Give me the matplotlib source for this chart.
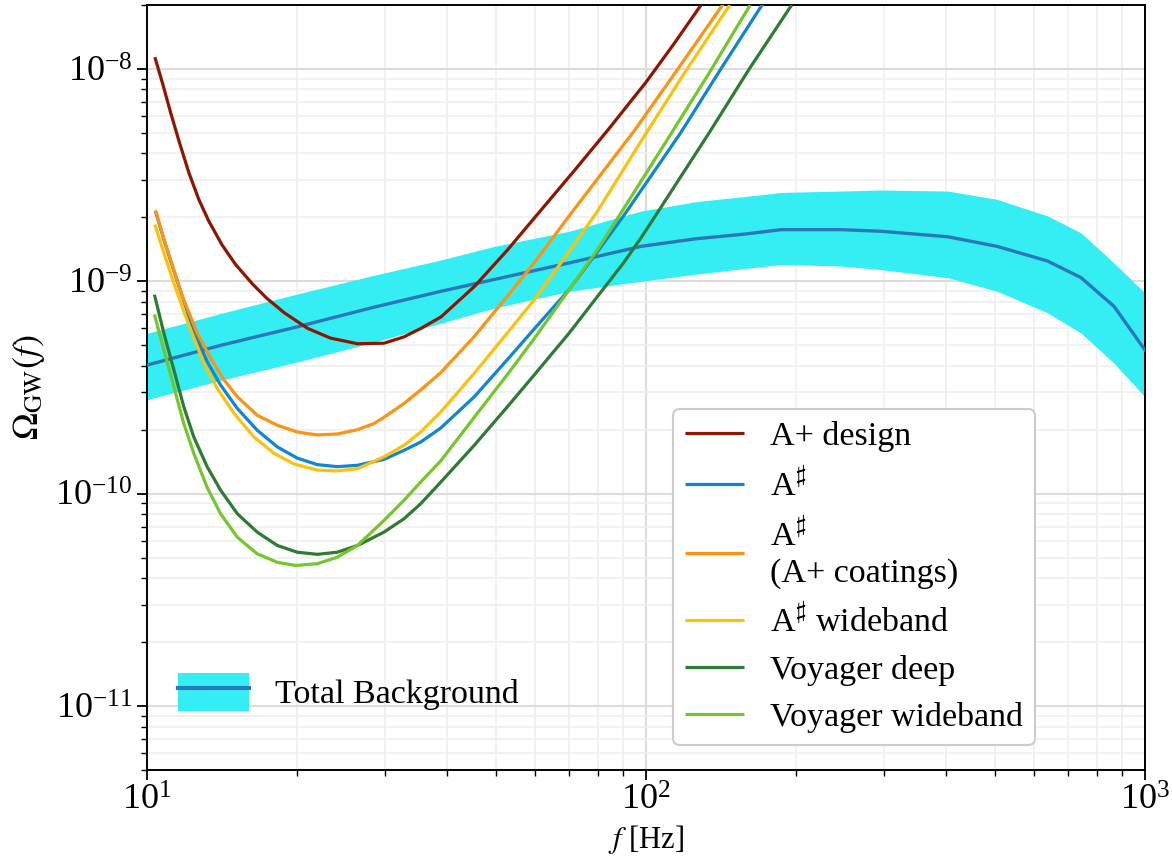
import matplotlib
matplotlib.use('Agg')
import matplotlib.pyplot as plt
from matplotlib.patches import Patch
from matplotlib.lines import Line2D
from matplotlib.ticker import NullFormatter, FixedLocator, LogLocator

plt.rcParams['font.family'] = ['Liberation Serif', 'DejaVu Serif']
plt.rcParams['mathtext.fontset'] = 'stix'

# ---------------- data ----------------
bg_f = [10, 14.13, 20.0, 28.18, 38.82, 49.66, 70.15, 97.72, 125.9, 158.5,
        186.6, 246.0, 295.8, 402.7, 505.8, 638.3, 744.7, 867.0, 1000]
bg_median = [4.03e-10, 5.01e-10, 6.10e-10, 7.50e-10, 8.97e-10, 1.02e-9, 1.22e-9,
             1.46e-9, 1.585e-9, 1.67e-9, 1.75e-9, 1.75e-9, 1.72e-9, 1.62e-9,
             1.46e-9, 1.245e-9, 1.04e-9, 7.62e-10, 4.75e-10]
bg_upper = [5.69e-10, 7.08e-10, 8.71e-10, 1.06e-9, 1.26e-9, 1.46e-9, 1.72e-9,
            2.14e-9, 2.37e-9, 2.51e-9, 2.62e-9, 2.66e-9, 2.69e-9, 2.66e-9,
            2.43e-9, 2.03e-9, 1.69e-9, 1.22e-9, 8.81e-10]
bg_lower = [2.77e-10, 3.43e-10, 4.17e-10, 5.13e-10, 6.35e-10, 7.48e-10, 8.97e-10,
            1.0e-9, 1.08e-9, 1.15e-9, 1.20e-9, 1.18e-9, 1.135e-9, 1.04e-9,
            8.97e-10, 7.10e-10, 5.70e-10, 4.11e-10, 2.86e-10]

aplus_f = [10.37, 10.73, 11.15, 11.59, 12.13, 12.70, 13.30, 14.15, 15.05, 16.26,
           17.38, 18.84, 20.99, 23.33, 26.42, 29.85, 32.73, 35.40, 38.82, 45.29,
           52.72, 60.12, 71.78, 83.75, 100, 114.0, 129.7]
aplus_om = [1.135e-8, 8.65e-9, 6.24e-9, 4.58e-9, 3.25e-9, 2.43e-9, 1.92e-9,
            1.48e-9, 1.20e-9, 9.73e-10, 8.32e-10, 7.11e-10, 6.00e-10, 5.40e-10,
            5.08e-10, 5.11e-10, 5.47e-10, 6.00e-10, 6.79e-10, 9.44e-10, 1.40e-9,
            2.02e-9, 3.31e-9, 5.13e-9, 8.65e-9, 1.32e-8, 2.04e-8]

asharp_f = [10.40, 10.81, 11.24, 11.77, 12.41, 13.20, 14.04, 15.17, 16.63, 18.25,
            20.01, 21.95, 24.07, 26.41, 29.85, 32.75, 35.37, 38.82, 45.29, 52.72,
            59.70, 70.15, 79.98, 90.16, 117.5, 141.3, 171.8]
asharp_om = [2.14e-9, 1.57e-9, 1.18e-9, 8.49e-10, 5.82e-10, 4.19e-10, 3.25e-10,
             2.52e-10, 1.99e-10, 1.66e-10, 1.47e-10, 1.37e-10, 1.34e-10, 1.36e-10,
             1.45e-10, 1.60e-10, 1.75e-10, 2.04e-10, 2.86e-10, 4.27e-10, 5.96e-10,
             9.14e-10, 1.38e-9, 2.03e-9, 5.02e-9, 1.0e-8, 2.04e-8]

acoat_f = [10.40, 10.81, 11.24, 11.77, 12.61, 13.41, 14.26, 15.17, 16.63, 18.25,
           20.01, 21.95, 24.07, 26.41, 28.51, 29.85, 32.75, 35.37, 38.82, 45.29,
           52.72, 59.70, 70.15, 94.84, 115.9, 143.2]
acoat_om = [2.16e-9, 1.585e-9, 1.19e-9, 8.51e-10, 5.70e-10, 4.35e-10, 3.44e-10,
            2.86e-10, 2.34e-10, 2.10e-10, 1.95e-10, 1.89e-10, 1.91e-10, 2.0e-10,
            2.14e-10, 2.29e-10, 2.66e-10, 3.08e-10, 3.72e-10, 5.50e-10, 8.49e-10,
            1.22e-9, 2.03e-9, 5.13e-9, 1.0e-8, 2.04e-8]

awide_f = [10.37, 10.81, 11.32, 11.95, 13.00, 13.83, 14.94, 16.38, 17.96, 19.70,
           21.95, 24.07, 26.41, 29.85, 32.75, 35.37, 38.82, 45.29, 52.72, 59.70,
           70.15, 79.98, 98.40, 119.4, 147.2]
awide_om = [1.85e-9, 1.36e-9, 9.82e-10, 6.84e-10, 4.11e-10, 3.13e-10, 2.39e-10,
            1.85e-10, 1.55e-10, 1.38e-10, 1.29e-10, 1.28e-10, 1.31e-10, 1.49e-10,
            1.69e-10, 1.95e-10, 2.43e-10, 3.69e-10, 5.70e-10, 8.18e-10, 1.38e-9,
            2.14e-9, 4.68e-9, 9.55e-9, 2.0e-8]

vdeep_f = [10.35, 10.81, 11.32, 11.85, 12.41, 13.20, 14.04, 15.17, 16.63, 18.25,
           20.01, 21.95, 24.07, 26.41, 29.85, 32.75, 35.37, 38.82, 45.29, 52.72,
           59.70, 70.15, 79.98, 90.16, 97.72, 105.4, 134.0, 161.1, 195.9]
vdeep_om = [8.65e-10, 5.70e-10, 3.83e-10, 2.57e-10, 1.85e-10, 1.34e-10, 1.04e-10,
            8.05e-11, 6.59e-11, 5.70e-11, 5.30e-11, 5.18e-11, 5.30e-11, 5.70e-11,
            6.59e-11, 7.62e-11, 8.97e-11, 1.135e-10, 1.69e-10, 2.56e-10, 3.62e-10,
            5.70e-10, 8.49e-10, 1.22e-9, 1.60e-9, 2.10e-9, 5.02e-9, 1.0e-8, 2.0e-8]

vwide_f = [10.35, 10.81, 11.32, 11.85, 12.41, 13.20, 14.04, 15.17, 16.63, 18.25,
           19.86, 21.95, 24.07, 26.41, 29.85, 32.75, 35.37, 38.82, 45.29, 52.72,
           59.70, 70.15, 79.98, 90.16, 107.9, 133.0, 161.8]
vwide_om = [6.97e-10, 4.75e-10, 3.19e-10, 2.14e-10, 1.55e-10, 1.07e-10, 8.05e-11,
            6.24e-11, 5.21e-11, 4.75e-11, 4.59e-11, 4.68e-11, 5.02e-11, 5.70e-11,
            7.48e-11, 9.31e-11, 1.135e-10, 1.43e-10, 2.29e-10, 3.63e-10, 5.37e-10,
            9.12e-10, 1.41e-9, 2.19e-9, 4.27e-9, 9.33e-9, 2.0e-8]

x_major = [10, 100, 1000]
y_major = [1e-11, 1e-10, 1e-9, 1e-8]

curves = [
    (aplus_f, aplus_om, '#8e1600', 'A+ design'),
    (asharp_f, asharp_om, '#0d86d3', r'A$^\sharp$'),
    (acoat_f, acoat_om, '#fd9311', 'A$^\\sharp$\n(A+ coatings)'),
    (awide_f, awide_om, '#fbc10c', r'A$^\sharp$ wideband'),
    (vdeep_f, vdeep_om, '#2e7b33', 'Voyager deep'),
    (vwide_f, vwide_om, '#74c62a', 'Voyager wideband'),
]

band_color = '#35eef4'
median_color = '#2a78b7'

# ---------------- figure ----------------
fig = plt.figure(figsize=(11.72, 8.56), dpi=100)
ax = fig.add_axes([0.1254, 0.1005, 0.8515, 0.8937])
ax.set_xscale('log')
ax.set_yscale('log')

ax.fill_between(bg_f, bg_lower, bg_upper, color=band_color, lw=0, zorder=2)
ax.plot(bg_f, bg_median, color=median_color, lw=2.4, zorder=3,
        solid_joinstyle='round')

handles = []
for f, om, c, lab in curves:
    h, = ax.plot(f, om, color=c, lw=2.3, label=lab, zorder=4,
                 solid_joinstyle='round', solid_capstyle='butt')
    handles.append(h)

ax.set_xlim(10, 1000)
ax.set_ylim(5e-12, 2e-8)

ax.xaxis.set_major_locator(FixedLocator(x_major))
ax.yaxis.set_major_locator(FixedLocator(y_major))
ax.xaxis.set_minor_locator(LogLocator(base=10, subs=range(2, 10), numticks=20))
ax.yaxis.set_minor_locator(LogLocator(base=10, subs=range(2, 10), numticks=20))
ax.xaxis.set_minor_formatter(NullFormatter())
ax.yaxis.set_minor_formatter(NullFormatter())

ax.grid(True, which='major', color='#dcdcdc', lw=1.5, zorder=0)
ax.grid(True, which='minor', color='#eeeeee', lw=1.1, zorder=0)
ax.set_axisbelow(True)

for s in ax.spines.values():
    s.set_linewidth(1.4)

ax.tick_params(which='major', direction='out', length=7, width=1.3, labelsize=26)
ax.tick_params(which='minor', direction='out', length=4, width=1.0)

ax.set_xlabel(r'$f$ [Hz]', fontsize=22, labelpad=4)
ax.set_ylabel(r'$\Omega_{\rm GW}(f)$', fontsize=26, labelpad=6)

leg1 = ax.legend(handles=handles, loc='lower right', bbox_to_anchor=(0.907, 0.011),
                 fontsize=24.5, frameon=True, fancybox=True, framealpha=1.0,
                 edgecolor='#cccccc', handlelength=1.74, handletextpad=0.76,
                 labelspacing=0.46, borderpad=0.35)
leg1.get_frame().set_linewidth(1.5)
ax.add_artist(leg1)

bg_handle = (Patch(facecolor=band_color, edgecolor='none'),
             Line2D([], [], color=median_color, lw=3))
ax.legend(handles=[bg_handle], labels=['Total Background'], loc='center left',
          bbox_to_anchor=(0.031, 0.102), frameon=False, fontsize=24.5,
          handlelength=2.09, handleheight=1.32, handletextpad=0.76,
          borderpad=0, borderaxespad=0)

fig.savefig('out.png', dpi=100)
